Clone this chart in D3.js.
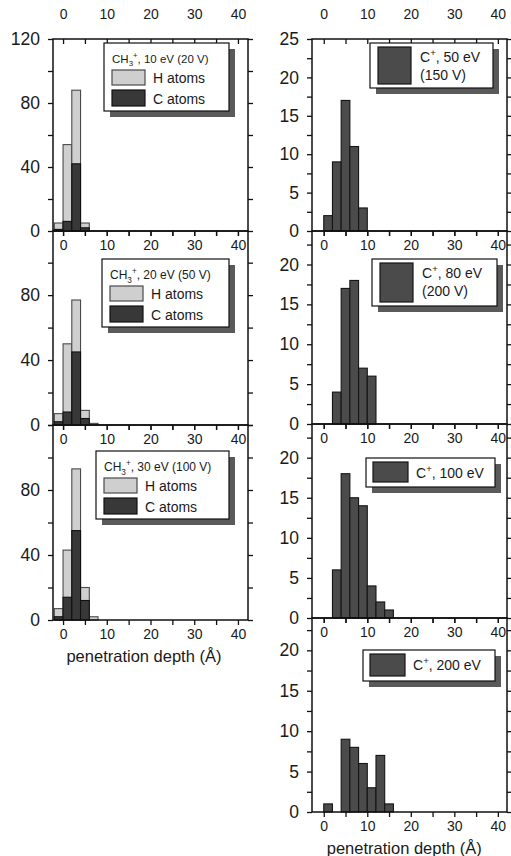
<!DOCTYPE html>
<html>
<head>
<meta charset="utf-8">
<script src="https://cdn.jsdelivr.net/npm/d3@7/dist/d3.min.js"></script>
<style>
    body { margin: 0; background: #fff; }
    svg { font-family: "Liberation Sans", Arial, sans-serif; }
    .frame { fill: none; stroke: #111; stroke-width: 1.5; }
    .axis path { display: none; }
    .axis line { stroke: #111; stroke-width: 1.3; }
    .axis text { fill: #1a1a1a; }
    .x-axis text { font-size: 14px; }
    .y-axis text { font-size: 17.5px; }
    .legend-box { fill: #fff; stroke: #111; stroke-width: 1.2; }
    .legend-shadow { fill: #5a5a5a; }
    .legend text { fill: #1a1a1a; }
</style>
</head>
<body>
<div id="chart"></div>
<script>

// bin starts, every bin is 2 A wide
const binWidth = 2;
const leftBins = [-2, 0, 2, 4, 6];
const rightBins = [0, 2, 4, 6, 8, 10, 12, 14];

// CH3+ runs: H and C atom counts per bin
const hAtoms10 = [5, 54, 88, 5, 0];
const cAtoms10 = [1, 6, 42, 2, 0];
const hAtoms20 = [7, 50, 77, 9, 1];
const cAtoms20 = [2, 8, 45, 4, 0];
const hAtoms30 = [7, 43, 93, 20, 2];
const cAtoms30 = [2, 14, 55, 12, 0];

// C+ runs
const cPlus50 = [2, 9, 17, 11, 3, 0, 0, 0];
const cPlus80 = [0, 4, 17, 18, 7, 6, 0, 0];
const cPlus100 = [0, 6, 18, 15, 14, 4, 2, 1];
const cPlus200 = [1, 0, 9, 8, 6, 3, 7, 1];

// ticks
const xTicks = [0, 5, 10, 15, 20, 25, 30, 35, 40];
const xLabels = [0, 10, 20, 30, 40];
const leftYTicks = [0, 20, 40, 60, 80, 100, 120];
const leftYLabelsTop = [0, 40, 80, 120];
const leftYLabels = [0, 40, 80];
const rightYTicks = [0, 2.5, 5, 7.5, 10, 12.5, 15, 17.5, 20, 22.5, 25];
const rightYLabelsTop = [0, 5, 10, 15, 20, 25];
const rightYLabels = [0, 5, 10, 15, 20];

// legend texts (_ = subscript, ^ = superscript)
const leftTitles = ["CH_3^+, 10 eV (20 V)", "CH_3^+, 20 eV (50 V)", "CH_3^+, 30 eV (100 V)"];
const seriesNames = ["H atoms", "C atoms"];
const rightTitles = [["C^+, 50 eV", "(150 V)"], ["C^+, 80 eV", "(200 V)"], ["C^+, 100 eV"], ["C^+, 200 eV"]];
const xTitle = "penetration depth (Å)";


const H_STYLE = { fill: "#cfcfcf", stroke: "#4a4a4a" };
const C_STYLE = { fill: "#383838", stroke: "#111" };
const R_STYLE = { fill: "#4b4b4b", stroke: "#151515" };


class histPanel {

    constructor(opts) {
        this.svg = opts.svg;
        this.left = opts.left;
        this.top = opts.top;
        this.width = opts.width;
        this.height = opts.height;
        this.xDomain = opts.xDomain;
        this.yDomain = opts.yDomain;
        this.yTicks = opts.yTicks;
        this.yLabels = opts.yLabels;
        this.topLabels = opts.topLabels;
        this.bottomLabels = opts.bottomLabels || false;
        this.series = opts.series;
        this.legend = opts.legend;

        this._setScales();
        this.draw();
    }

    _setScales() {
        this.xScale = d3.scaleLinear()
            .domain(this.xDomain)
            .range([0, this.width]);

        this.yScale = d3.scaleLinear()
            .domain(this.yDomain)
            .range([this.height, 0]);
    }

    draw() {
        this.plot = this.svg.append("g")
            .attr("transform", `translate(${this.left},${this.top})`);

        let ticksIn = this.yTicks.filter(d => d <= this.yDomain[1]);
        let xFmt = d => xLabels.includes(d) ? d : "";

        // bars, H behind C
        this.series.forEach(s => {
            let rows = s.bins.map((b, i) => ({ b: b, v: s.values[i] })).filter(d => d.v > 0);
            this.plot.append("g").selectAll("rect")
                .data(rows).enter()
                .append("rect")
                .attr("x", d => this.xScale(d.b))
                .attr("width", d => this.xScale(d.b + binWidth) - this.xScale(d.b))
                .attr("y", d => this.yScale(d.v))
                .attr("height", d => this.yScale(0) - this.yScale(d.v))
                .attr("fill", s.style.fill)
                .attr("stroke", s.style.stroke)
                .attr("stroke-width", 1.1);
        });

        this.plot.append("g")
            .attr("class", "axis y-axis")
            .call(d3.axisLeft(this.yScale)
                .tickValues(ticksIn)
                .tickSize(5)
                .tickPadding(8)
                .tickFormat(d => this.yLabels.includes(d) ? d : ""));

        this.plot.append("g")
            .attr("class", "axis")
            .attr("transform", `translate(${this.width},0)`)
            .call(d3.axisRight(this.yScale)
                .tickValues(ticksIn)
                .tickSize(5)
                .tickFormat(""));

        // top axis: ticks point down, labels above or inside
        if (this.topLabels == "above") {
            this.plot.append("g")
                .attr("class", "axis x-axis")
                .call(d3.axisTop(this.xScale)
                    .tickValues(xTicks)
                    .tickSize(-5)
                    .tickPadding(20)
                    .tickFormat(xFmt));
        } else {
            this.plot.append("g")
                .attr("class", "axis x-axis")
                .call(d3.axisBottom(this.xScale)
                    .tickValues(xTicks)
                    .tickSize(5)
                    .tickPadding(4)
                    .tickFormat(xFmt));
        }

        this.plot.append("g")
            .attr("class", "axis x-axis")
            .attr("transform", `translate(0,${this.height})`)
            .call(d3.axisBottom(this.xScale)
                .tickValues(xTicks)
                .tickSize(5)
                .tickPadding(4)
                .tickFormat(this.bottomLabels ? xFmt : ""));

        if (this.bottomLabels) {
            this.plot.append("text")
                .attr("x", this.xScale(18.5))
                .attr("y", this.height + 42)
                .attr("text-anchor", "middle")
                .attr("font-size", 16.5)
                .attr("fill", "#1a1a1a")
                .text(xTitle);
        }

        this.plot.append("rect")
            .attr("class", "frame")
            .attr("width", this.width)
            .attr("height", this.height);

        this._drawLegend();
    }

    _drawLegend() {
        let lg = this.legend;
        let g = this.svg.append("g")
            .attr("class", "legend")
            .attr("transform", `translate(${lg.x},${lg.y})`);

        g.append("rect")
            .attr("class", "legend-shadow")
            .attr("x", 6).attr("y", 6)
            .attr("width", lg.w).attr("height", lg.h);

        g.append("rect")
            .attr("class", "legend-box")
            .attr("width", lg.w).attr("height", lg.h);

        lg.rows.forEach(r => {
            if (r.swatch) {
                g.append("rect")
                    .attr("x", r.swatch[0]).attr("y", r.swatch[1])
                    .attr("width", r.swatch[2]).attr("height", r.swatch[3])
                    .attr("fill", r.style.fill)
                    .attr("stroke", r.style.stroke)
                    .attr("stroke-width", 1.2);
            }
            r.lines.forEach((txt, i) => {
                richText(g.append("text")
                    .attr("x", r.tx)
                    .attr("y", r.ty + i * 18)
                    .attr("font-size", r.size), txt, r.size);
            });
        });
    }
}


/* HELPER FUNCTIONS */
// writes "CH_3^+" style strings with sub/superscripts as tspans
function richText(sel, str, size) {
    let parts = str.match(/_.|\^.|[^_^]+/g);
    let shift = 0;
    parts.forEach(p => {
        let target = 0, txt = p, fs = size;
        if (p[0] == "_") { target = size * 0.3; txt = p[1]; fs = size * 0.68; }
        if (p[0] == "^") { target = -size * 0.42; txt = p[1]; fs = size * 0.68; }
        sel.append("tspan")
            .attr("dy", target - shift)
            .attr("font-size", fs)
            .text(txt);
        shift = target;
    });
}


const svg = d3.select("#chart").append("svg")
    .attr("width", 511)
    .attr("height", 856);

const LX = 53, RX = 312, PW = 195;
const leftX = [-2.3, 42.3];
const rightX = [-2.7, 42.1];

function leftLegend(x, y, w, title, fs) {
    return {
        x: x, y: y, w: w, h: 68,
        rows: [
            { lines: [title], tx: 8, ty: 20, size: fs },
            { lines: [seriesNames[0]], tx: 49, ty: 40, size: 14, swatch: [8, 27, 33, 15], style: H_STYLE },
            { lines: [seriesNames[1]], tx: 49, ty: 61, size: 14, swatch: [8, 47, 33, 16], style: C_STYLE }
        ]
    };
}

function rightLegend(x, y, w, h, lines) {
    let two = lines.length > 1;
    return {
        x: x, y: y, w: w, h: h,
        rows: [
            { lines: lines, tx: 50, ty: two ? 19 : 20, size: 14,
              swatch: two ? [8, 4, 33, h - 8] : [7, 4, 35, h - 9], style: R_STYLE }
        ]
    };
}

new histPanel({
    svg: svg, left: LX, top: 39, width: PW, height: 192,
    xDomain: leftX, yDomain: [0, 120], yTicks: leftYTicks, yLabels: leftYLabelsTop,
    topLabels: "above",
    series: [
        { bins: leftBins, values: hAtoms10, style: H_STYLE },
        { bins: leftBins, values: cAtoms10, style: C_STYLE }
    ],
    legend: leftLegend(104, 43, 125, leftTitles[0], 11.5)
});

new histPanel({
    svg: svg, left: LX, top: 231, width: PW, height: 194,
    xDomain: leftX, yDomain: [0, 119.5], yTicks: leftYTicks, yLabels: leftYLabels,
    topLabels: "inside",
    series: [
        { bins: leftBins, values: hAtoms20, style: H_STYLE },
        { bins: leftBins, values: cAtoms20, style: C_STYLE }
    ],
    legend: leftLegend(102, 259, 127, leftTitles[1], 12)
});

new histPanel({
    svg: svg, left: LX, top: 425, width: PW, height: 195,
    xDomain: leftX, yDomain: [0, 120], yTicks: leftYTicks, yLabels: leftYLabels,
    topLabels: "inside", bottomLabels: true,
    series: [
        { bins: leftBins, values: hAtoms30, style: H_STYLE },
        { bins: leftBins, values: cAtoms30, style: C_STYLE }
    ],
    legend: leftLegend(96, 451, 133, leftTitles[2], 12)
});

new histPanel({
    svg: svg, left: RX, top: 39, width: PW, height: 192,
    xDomain: rightX, yDomain: [0, 25], yTicks: rightYTicks, yLabels: rightYLabelsTop,
    topLabels: "above",
    series: [{ bins: rightBins, values: cPlus50, style: R_STYLE }],
    legend: rightLegend(370, 43, 123, 45, rightTitles[0])
});

new histPanel({
    svg: svg, left: RX, top: 231, width: PW, height: 193,
    xDomain: rightX, yDomain: [0, 24.2], yTicks: rightYTicks, yLabels: rightYLabels,
    topLabels: "inside",
    series: [{ bins: rightBins, values: cPlus80, style: R_STYLE }],
    legend: rightLegend(372, 259, 125, 47, rightTitles[1])
});

new histPanel({
    svg: svg, left: RX, top: 424, width: PW, height: 194,
    xDomain: rightX, yDomain: [0, 24.2], yTicks: rightYTicks, yLabels: rightYLabels,
    topLabels: "inside",
    series: [{ bins: rightBins, values: cPlus100, style: R_STYLE }],
    legend: rightLegend(366, 458, 129, 29, rightTitles[2])
});

new histPanel({
    svg: svg, left: RX, top: 618, width: PW, height: 194,
    xDomain: rightX, yDomain: [0, 24], yTicks: rightYTicks, yLabels: rightYLabels,
    topLabels: "inside", bottomLabels: true,
    series: [{ bins: rightBins, values: cPlus200, style: R_STYLE }],
    legend: rightLegend(363, 650, 132, 31, rightTitles[3])
});

</script>
</body>
</html>
